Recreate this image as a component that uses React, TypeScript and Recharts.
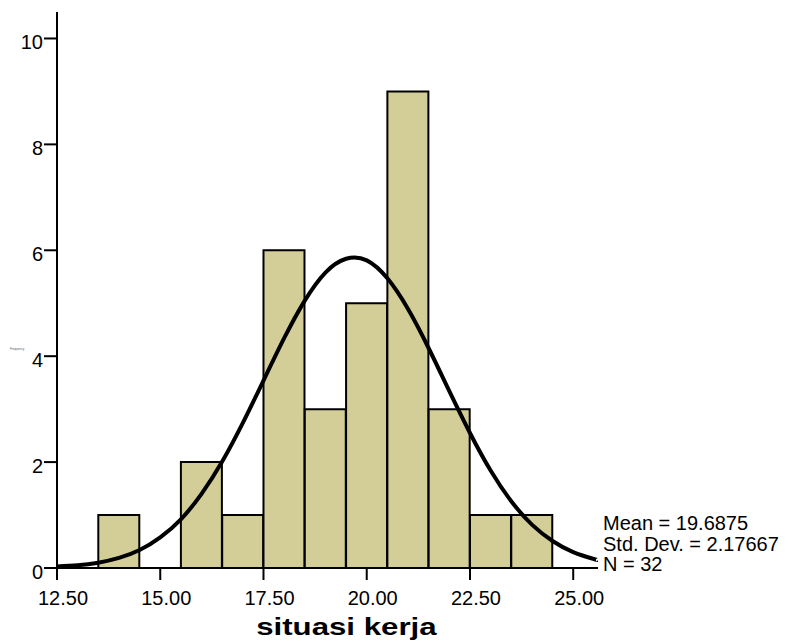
import React from "react";
import { ComposedChart, Bar, Line, XAxis, YAxis } from "recharts";

// histogram bins (width 1), centred on whole numbers
const binCenters = [14, 15, 16, 17, 18, 19, 20, 21, 22, 23, 24];
const binCounts = [1, 0, 2, 1, 6, 3, 5, 9, 3, 1, 1];

// normal curve
const curveX = [
  12.5, 13, 13.5, 14, 14.5, 15, 15.5, 16, 16.5, 17, 17.5, 18, 18.5, 19, 19.5, 20,
  20.5, 21, 21.5, 22, 22.5, 23, 23.5, 24, 24.5, 25, 25.5, 25.6,
];
const curveY = [
  0.03, 0.05, 0.1, 0.19, 0.34, 0.58, 0.92, 1.4, 2.01, 2.74, 3.54, 4.34, 5.05, 5.58, 5.84, 5.81,
  5.47, 4.89, 4.15, 3.34, 2.55, 1.84, 1.26, 0.82, 0.51, 0.3, 0.17, 0.15,
];

const xTicks = [12.5, 15, 17.5, 20, 22.5, 25];
const yTicks = [0, 2, 4, 6, 8, 10];
const xDomain = [12.5, 25.6];

const statLines = ["Mean = 19.6875", "Std. Dev. = 2.17667", "N = 32"];

const bins = binCenters.map((x, i) => ({ x, count: binCounts[i] }));
const curve = curveX.map((x, i) => ({ x, curve: curveY[i] }));

const font = "'Liberation Sans', Arial, sans-serif";

const XTick = (props: any) => {
  const { x, y, payload } = props;
  return (
    <text x={x + 6} y={y + 23} textAnchor="middle" fontSize={20} fontFamily={font} fill="#000">
      {Number(payload.value).toFixed(2)}
    </text>
  );
};

const YTick = (props: any) => {
  const { x, y, payload } = props;
  return (
    <text x={x} y={y + 11} textAnchor="end" fontSize={20} fontFamily={font} fill="#000">
      {payload.value}
    </text>
  );
};

export default function App() {
  return (
    <div style={{ position: "absolute", left: 0, top: 0, width: 794, height: 643, background: "#fff" }}>
      <ComposedChart
        width={794}
        height={643}
        data={bins}
        barCategoryGap={0}
        barGap={0}
        margin={{ top: 12, right: 196, left: 12, bottom: 35 }}
      >
        <XAxis
          dataKey="x"
          type="number"
          domain={xDomain}
          ticks={xTicks}
          height={40}
          allowDataOverflow
          axisLine={{ stroke: "#000", strokeWidth: 2 }}
          tickLine={{ stroke: "#000", strokeWidth: 2 }}
          tickSize={12}
          tickMargin={2}
          tick={<XTick />}
        />
        {/* same scale, only so the curve points don't shrink the bar band */}
        <XAxis xAxisId="curve" dataKey="x" type="number" domain={xDomain} allowDataOverflow hide />
        <YAxis
          type="number"
          domain={[0, 10.5]}
          ticks={yTicks}
          width={45}
          allowDataOverflow
          axisLine={{ stroke: "#000", strokeWidth: 2 }}
          tickLine={{ stroke: "#000", strokeWidth: 2 }}
          tickSize={13}
          tickMargin={1}
          tick={<YTick />}
        />
        <Bar
          dataKey="count"
          fill="#d3ce97"
          stroke="#000"
          strokeWidth={2}
          isAnimationActive={false}
        />
        <Line
          xAxisId="curve"
          data={curve}
          dataKey="curve"
          type="natural"
          stroke="#000"
          strokeWidth={4}
          dot={false}
          activeDot={false}
          isAnimationActive={false}
        />
      </ComposedChart>

      <div style={{ position: "absolute", left: 10, top: 347, fontSize: 3, fontFamily: font, color: "#555" }}>
        Frequency
      </div>

      <div style={{ position: "absolute", left: 603, top: 513, fontSize: 20, lineHeight: "20.5px", fontFamily: font, color: "#000" }}>
        {statLines.map((s) => (
          <div key={s}>{s}</div>
        ))}
      </div>

      <div
        style={{
          position: "absolute",
          left: 146,
          top: 615,
          width: 400,
          textAlign: "center",
          fontSize: 24,
          lineHeight: "24px",
          fontWeight: "bold",
          fontFamily: font,
          color: "#000",
        }}
      >
        <span style={{ display: "inline-block", transform: "scaleX(1.3)" }}>situasi kerja</span>
      </div>
    </div>
  );
}
